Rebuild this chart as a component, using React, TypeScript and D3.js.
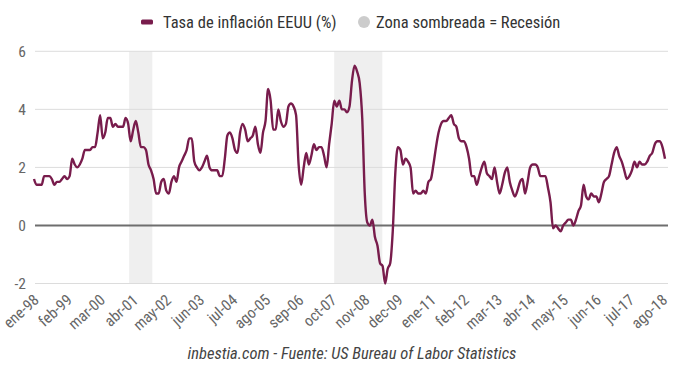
import React from "react";
import * as d3 from "d3";

const y1998 = [1.6, 1.4, 1.4, 1.4, 1.7, 1.7, 1.7, 1.6, 1.4, 1.5, 1.5, 1.6];
const y1999 = [1.7, 1.6, 1.7, 2.3, 2.1, 2.0, 2.1, 2.3, 2.6, 2.6, 2.6, 2.7];
const y2000 = [2.7, 3.2, 3.8, 3.0, 3.2, 3.7, 3.7, 3.4, 3.5, 3.4, 3.4, 3.4];
const y2001 = [3.7, 3.5, 2.9, 3.3, 3.6, 3.2, 2.7, 2.7, 2.6, 2.1, 1.9, 1.6];
const y2002 = [1.1, 1.1, 1.5, 1.6, 1.2, 1.1, 1.5, 1.7, 1.5, 2.0, 2.2, 2.4];
const y2003 = [2.6, 3.0, 3.0, 2.2, 2.0, 1.9, 2.0, 2.2, 2.4, 2.0, 1.9, 1.9];
const y2004 = [1.9, 1.7, 1.7, 2.3, 3.1, 3.2, 3.0, 2.6, 2.5, 3.2, 3.5, 3.3];
const y2005 = [2.9, 3.0, 3.1, 3.4, 2.8, 2.5, 3.2, 3.6, 4.7, 4.3, 3.3, 3.3];
const y2006 = [4.0, 3.6, 3.4, 3.5, 4.1, 4.2, 4.1, 3.8, 2.1, 1.4, 2.0, 2.5];
const y2007 = [2.1, 2.4, 2.8, 2.6, 2.7, 2.7, 2.4, 2.0, 2.8, 3.5, 4.3, 4.1];
const y2008 = [4.3, 4.0, 4.0, 3.9, 4.1, 5.0, 5.5, 5.3, 4.9, 3.7, 1.1, 0.1];
const y2009 = [0.0, 0.2, -0.4, -0.7, -1.3, -1.4, -2.0, -1.5, -1.3, -0.2, 1.8, 2.7];
const y2010 = [2.6, 2.1, 2.3, 2.2, 2.0, 1.1, 1.2, 1.1, 1.1, 1.2, 1.1, 1.5];
const y2011 = [1.6, 2.1, 2.7, 3.2, 3.5, 3.6, 3.6, 3.7, 3.8, 3.5, 3.4, 3.0];
const y2012 = [2.9, 2.9, 2.7, 2.3, 1.7, 1.7, 1.4, 1.7, 2.0, 2.2, 1.8, 1.7];
const y2013 = [1.6, 2.0, 1.5, 1.1, 1.4, 1.8, 2.0, 1.5, 1.2, 1.0, 1.2, 1.5];
const y2014 = [1.6, 1.1, 1.5, 2.0, 2.1, 2.1, 2.0, 1.7, 1.7, 1.7, 1.3, 0.8];
const y2015 = [-0.1, 0.0, -0.1, -0.2, 0.0, 0.1, 0.2, 0.2, 0.0, 0.2, 0.5, 0.7];
const y2016 = [1.4, 1.0, 0.9, 1.1, 1.0, 1.0, 0.8, 1.1, 1.5, 1.6, 1.7, 2.1];
const y2017 = [2.5, 2.7, 2.4, 2.2, 1.9, 1.6, 1.7, 1.9, 2.2, 2.0, 2.2, 2.1];
const y2018 = [2.1, 2.2, 2.4, 2.5, 2.8, 2.9, 2.9, 2.7, 2.3];

const inflation = [
  ...y1998, ...y1999, ...y2000, ...y2001, ...y2002, ...y2003, ...y2004,
  ...y2005, ...y2006, ...y2007, ...y2008, ...y2009, ...y2010, ...y2011,
  ...y2012, ...y2013, ...y2014, ...y2015, ...y2016, ...y2017, ...y2018,
];

const xLabels = [
  "ene-98", "feb-99", "mar-00", "abr-01", "may-02", "jun-03", "jul-04",
  "ago-05", "sep-06", "oct-07", "nov-08", "dec-09", "ene-11", "feb-12",
  "mar-13", "abr-14", "may-15", "jun-16", "jul-17", "ago-18",
];
const labelStep = 13;

const yTicks = [-2, 0, 2, 4, 6];

// recession periods, as month indices from ene-98
const recessionStart = [37.4, 118];
const recessionEnd = [46.5, 136.9];

const seriesName = "Tasa de inflación EEUU (%)";
const bandName = "Zona sombreada = Recesión";
const credit = "inbestia.com - Fuente: US Bureau of Labor Statistics";

const W = 680;
const H = 368;
const FONT = "'Liberation Sans Narrow', 'Roboto Condensed', 'DejaVu Sans Condensed', Roboto, sans-serif";

export default function App() {
  const x = d3.scaleLinear().domain([0, inflation.length - 1]).range([34, 665]);
  const y = d3.scaleLinear().domain([-2, 6]).range([283.5, 51.3]);
  const line = d3
    .line<number>()
    .x((_, i) => x(i))
    .y((d) => y(d))
    .curve(d3.curveMonotoneX);

  return (
    <svg
      width={W}
      height={H}
      style={{ position: "absolute", left: 0, top: 0, background: "#fff" }}
      fontFamily={FONT}
    >
      {recessionStart.map((s, i) => (
        <rect
          key={"r" + i}
          x={x(s)}
          y={y(6)}
          width={x(recessionEnd[i]) - x(s)}
          height={y(-2) - y(6)}
          fill="#efefef"
        />
      ))}
      {yTicks.map((t) => (
        <g key={"t" + t}>
          <line
            x1={35}
            x2={668}
            y1={y(t)}
            y2={y(t)}
            stroke={t === 0 ? "#6e6e6e" : "#dcdcdc"}
            strokeWidth={t === 0 ? 2 : 1}
          />
          <text
            x={26}
            y={y(t)}
            dy="0.35em"
            textAnchor="end"
            fontSize={15.5}
            fill="#666"
          >
            {t}
          </text>
        </g>
      ))}
      <path
        d={line(inflation) || ""}
        fill="none"
        stroke="#781c4c"
        strokeWidth={2.4}
        strokeLinejoin="round"
      />
      {xLabels.map((lab, i) => (
        <text
          key={lab}
          transform={`translate(${x(i * labelStep) + 6},${y(-2) + 18}) rotate(-42)`}
          textAnchor="end"
          fontSize={15.5}
          fill="#666"
        >
          {lab}
        </text>
      ))}
      <g>
        <rect x={141} y={19.5} width={12} height={5} rx={1.5} fill="#781c4c" />
        <text x={163} y={22} dy="0.35em" fontSize={16.5} fill="#333">
          {seriesName}
        </text>
        <circle cx={364} cy={22} r={6} fill="#cccccc" />
        <text x={376} y={22} dy="0.35em" fontSize={16.5} fill="#333">
          {bandName}
        </text>
      </g>
      <text
        x={352}
        y={353}
        dy="0.35em"
        textAnchor="middle"
        fontSize={16.5}
        fontStyle="italic"
        fill="#444"
      >
        {credit}
      </text>
    </svg>
  );
}
